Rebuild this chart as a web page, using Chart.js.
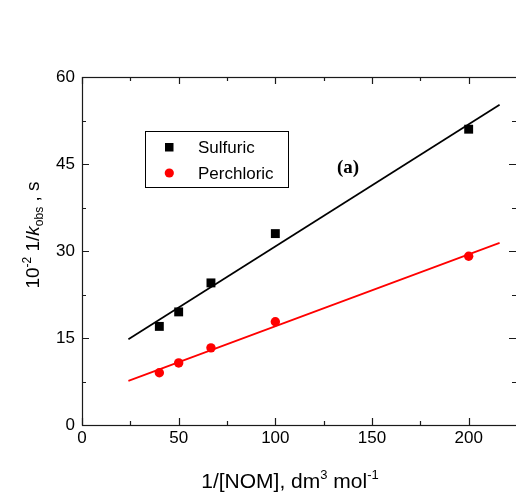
<!DOCTYPE html>
<html>
<head>
<meta charset="utf-8">
<script src="https://cdn.jsdelivr.net/npm/chart.js@4"></script>
<style>
  html, body { margin: 0; padding: 0; background: #fff; overflow: hidden; }
  #wrap { width: 516px; height: 493px; overflow: hidden; }
  canvas { display: block; }
</style>
</head>
<body>
<div id="wrap"><canvas id="c" width="518" height="493"></canvas></div>
<script>
// 1/[NOM] values (dm3 mol-1)
const nomInv = [40, 50, 66.7, 100, 200];
// 10^-2 * 1/k_obs (s)
const sulfuric = [17.0, 19.5, 24.5, 33.0, 51.0];
const perchloric = [9.0, 10.7, 13.3, 17.8, 29.1];
// least-squares fit lines, drawn between these x limits
const fitX = [24, 216];
const sulfuricFit = [14.8, 55.2];
const perchloricFit = [7.6, 31.4];

const xTicks = [0, 50, 100, 150, 200];
const xMinor = [25, 75, 125, 175];
const yTicks = [0, 15, 30, 45, 60];
const yMinor = [7.5, 22.5, 37.5, 52.5];

const SANS = '"Liberation Sans", Arial, sans-serif';
const pts = (xs, ys) => xs.map((x, i) => ({ x, y: ys[i] }));

// draws a sequence of text runs (main text, superscripts, subscripts)
function drawRuns(ctx, runs, x, y, align) {
  let total = 0;
  runs.forEach(r => { ctx.font = r.font; r.w = ctx.measureText(r.text).width; total += r.w; });
  let cx = align === 'center' ? x - total / 2 : x;
  ctx.textAlign = 'left';
  ctx.textBaseline = 'alphabetic';
  runs.forEach(r => {
    ctx.font = r.font;
    ctx.fillText(r.text, cx, y + (r.dy || 0));
    cx += r.w;
  });
}

const decorations = {
  id: 'decorations',
  afterDraw(chart) {
    const ctx = chart.ctx;
    const a = chart.chartArea;
    const xs = chart.scales.x, ys = chart.scales.y;
    ctx.save();

    // frame
    ctx.strokeStyle = '#1a1a1a';
    ctx.lineWidth = 1.2;
    ctx.strokeRect(a.left + 0.5, a.top + 0.5, a.right - a.left, a.bottom - a.top);

    // inward ticks on all four sides
    ctx.beginPath();
    const vTick = (v, len) => {
      const px = Math.round(xs.getPixelForValue(v)) + 0.5;
      ctx.moveTo(px, a.bottom); ctx.lineTo(px, a.bottom - len);
      ctx.moveTo(px, a.top); ctx.lineTo(px, a.top + len);
    };
    const hTick = (v, len) => {
      const py = Math.round(ys.getPixelForValue(v)) + 0.5;
      ctx.moveTo(a.left, py); ctx.lineTo(a.left + len, py);
      ctx.moveTo(a.right - 1, py); ctx.lineTo(a.right - 1 - len, py);
    };
    xTicks.forEach(v => vTick(v, 7));
    xMinor.forEach(v => vTick(v, 4));
    yTicks.forEach(v => hTick(v, 7));
    yMinor.forEach(v => hTick(v, 4));
    ctx.stroke();

    // legend
    ctx.lineWidth = 1;
    ctx.strokeStyle = '#000';
    ctx.strokeRect(145.5, 131.5, 143, 56);
    const ds = chart.data.datasets;
    ctx.fillStyle = ds[0].backgroundColor;
    ctx.fillRect(165, 143, 8.5, 8.5);
    ctx.fillStyle = ds[1].backgroundColor;
    ctx.beginPath();
    ctx.arc(169.3, 173, 4.6, 0, Math.PI * 2);
    ctx.fill();
    ctx.fillStyle = '#000';
    ctx.font = '17px ' + SANS;
    ctx.textAlign = 'left';
    ctx.textBaseline = 'alphabetic';
    ctx.fillText(ds[0].label, 198, 153);
    ctx.fillText(ds[1].label, 198, 179);

    // panel tag
    ctx.font = 'bold 19px "Liberation Serif", "Times New Roman", serif';
    ctx.textAlign = 'center';
    ctx.fillText('(a)', 348, 173);

    // x axis title
    ctx.fillStyle = '#000';
    drawRuns(ctx, [
      { text: '1/[NOM], dm', font: '21px ' + SANS },
      { text: '3', font: '13px ' + SANS, dy: -9 },
      { text: ' mol', font: '21px ' + SANS },
      { text: '-1', font: '13px ' + SANS, dy: -9 }
    ], 290, 488, 'center');

    // y axis title
    ctx.translate(39, 235);
    ctx.rotate(-Math.PI / 2);
    drawRuns(ctx, [
      { text: '10', font: '19px ' + SANS },
      { text: '-2', font: '12px ' + SANS, dy: -8 },
      { text: ' 1/', font: '19px ' + SANS },
      { text: 'k', font: 'italic 19px ' + SANS },
      { text: 'obs', font: '12px ' + SANS, dy: 4 },
      { text: ' , s', font: '19px ' + SANS }
    ], 0, 0, 'center');

    ctx.restore();
  }
};

new Chart(document.getElementById('c'), {
  type: 'scatter',
  data: {
    datasets: [
      {
        label: 'Sulfuric',
        data: pts(nomInv, sulfuric),
        pointStyle: 'rect',
        pointRadius: 6.3,
        backgroundColor: '#000',
        borderColor: '#000',
        borderWidth: 0
      },
      {
        label: 'Perchloric',
        data: pts(nomInv, perchloric),
        pointStyle: 'circle',
        pointRadius: 4.7,
        backgroundColor: '#ff0000',
        borderColor: '#ff0000',
        borderWidth: 0
      },
      {
        label: 'Sulfuric fit',
        data: pts(fitX, sulfuricFit),
        showLine: true,
        pointRadius: 0,
        borderColor: '#000',
        borderWidth: 1.7
      },
      {
        label: 'Perchloric fit',
        data: pts(fitX, perchloricFit),
        showLine: true,
        pointRadius: 0,
        borderColor: '#ff0000',
        borderWidth: 1.7
      }
    ]
  },
  options: {
    responsive: false,
    animation: false,
    devicePixelRatio: 1,
    layout: { autoPadding: false, padding: { left: 0, top: 77, right: 1, bottom: 0 } },
    plugins: { legend: { display: false }, tooltip: { enabled: false } },
    scales: {
      x: {
        type: 'linear',
        min: 0,
        max: 225,
        grid: { display: false, drawTicks: false },
        border: { display: false },
        afterBuildTicks: s => { s.ticks = xTicks.map(v => ({ value: v })); },
        afterFit: s => { s.height = 68; s.paddingLeft = 0; s.paddingRight = 0; },
        ticks: {
          padding: 3,
          color: '#000',
          maxRotation: 0,
          font: { family: SANS, size: 17 }
        }
      },
      y: {
        type: 'linear',
        min: 0,
        max: 60,
        grid: { display: false, drawTicks: false },
        border: { display: false },
        afterBuildTicks: s => { s.ticks = yTicks.map(v => ({ value: v })); },
        afterFit: s => { s.width = 82; s.paddingTop = 0; s.paddingBottom = 0; },
        ticks: {
          padding: 7,
          color: '#000',
          font: { family: SANS, size: 17 }
        }
      }
    }
  },
  plugins: [decorations]
});
</script>
</body>
</html>
